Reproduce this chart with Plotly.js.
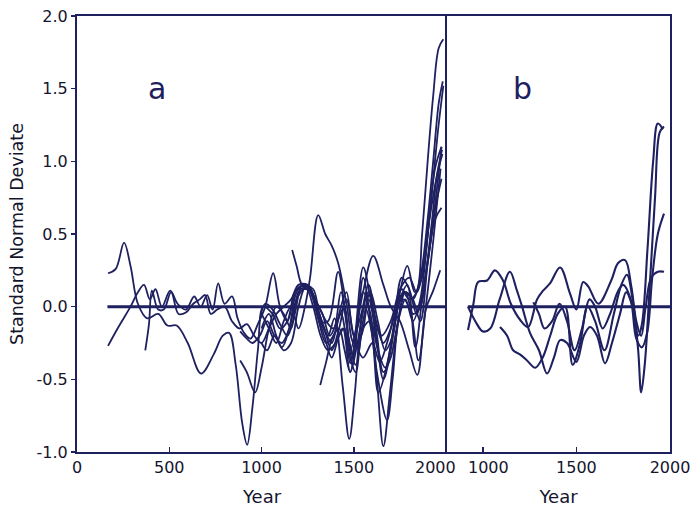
<!DOCTYPE html>
<html>
<head>
<meta charset="utf-8">
<script src="https://cdn.plot.ly/plotly-3.0.1.min.js"></script>
<style>html,body{margin:0;padding:0;background:#fff}#chart{width:693px;height:511px}</style>
</head>
<body>
<div id="chart"></div>
<script>
// ---------- Panel a series (year, standard normal deviate) ----------
const zeroAYear = [165, 2005];
const zeroAValue = [0, 0];

const a1Year = [168,210,255,290,330,380,440,490,540,600,672,740,790,824,860,895,922,950,980,1010,1060,1100,1140,1180,1220,1260,1300,1340,1380,1420,1460,1500,1550,1600,1640,1680,1720,1760,1800,1840,1870,1900,1930,1960,1985];
const a1Value = [0.23,0.26,0.44,0.28,0.02,-0.08,-0.05,-0.13,-0.13,-0.25,-0.46,-0.33,-0.2,-0.18,-0.4,-0.8,-0.95,-0.7,-0.3,0.0,-0.05,-0.15,-0.1,0.1,0.14,0.13,0.0,-0.15,-0.3,-0.15,0.05,-0.2,-0.35,-0.25,-0.38,-0.25,-0.05,0.12,0.05,0.1,0.5,1.0,1.45,1.78,1.84];

const a2Year = [168,220,290,330,363,395,425,460,505,545,590,635,670,705,735,765,800,840,870,905,940,980,1020,1063,1100,1140,1190,1240,1280,1320,1360,1415,1450,1490,1551,1600,1650,1700,1750,1800,1840,1880,1920,1955,1985];
const a2Value = [-0.27,-0.15,0.0,0.1,0.15,0.05,0.12,0.0,0.11,0.02,-0.02,0.07,0.0,0.08,-0.02,0.16,0.02,0.07,-0.08,-0.18,-0.22,-0.12,0.0,0.23,0.0,-0.1,0.12,0.15,0.05,-0.1,-0.1,0.24,0.0,-0.35,0.27,0.0,-0.2,-0.1,0.12,0.2,0.1,0.3,0.75,1.2,1.52];

const a3Year = [370,390,406,440,470,510,550,590,630,665,694,725,760,800,840,880,920,960,1000,1040,1080,1120,1160,1200,1250,1290,1330,1370,1410,1450,1480,1520,1550,1605,1660,1700,1750,1800,1844,1890,1930,1968];
const a3Value = [-0.30,-0.12,0.11,-0.02,-0.02,0.1,-0.05,-0.04,0.02,0.05,0.08,-0.05,-0.02,0.0,-0.1,-0.15,-0.12,-0.2,-0.25,-0.15,-0.05,0.0,0.05,0.15,0.15,0.05,-0.05,-0.2,-0.1,0.0,-0.3,-0.1,0.1,0.35,0.15,0.0,-0.1,-0.3,-0.47,-0.02,0.11,0.25];

const a4Year = [884,920,965,1000,1040,1080,1120,1160,1200,1240,1280,1320,1360,1400,1440,1480,1520,1560,1600,1633,1680,1720,1760,1800,1840,1880,1920,1950,1978];
const a4Value = [-0.37,-0.45,-0.59,-0.42,-0.15,0.0,-0.05,-0.15,0.1,0.13,0.0,-0.2,-0.3,-0.25,-0.15,-0.45,-0.25,0.0,-0.2,-0.59,-0.4,-0.1,0.2,0.12,-0.05,0.15,0.55,0.9,1.08];

const a5Year = [884,920,950,990,1030,1070,1110,1150,1190,1230,1270,1310,1350,1390,1430,1470,1510,1550,1590,1630,1670,1710,1750,1790,1833,1870,1910,1945,1975];
const a5Value = [-0.17,-0.22,-0.25,-0.2,-0.1,-0.2,-0.25,-0.15,0.05,0.12,0.1,-0.1,-0.25,-0.2,-0.05,-0.3,-0.45,-0.15,-0.1,-0.3,-0.42,-0.2,0.05,0.15,-0.28,0.05,0.4,0.7,0.88];

const a6Year = [990,1020,1060,1100,1140,1180,1220,1260,1300,1340,1380,1420,1450,1480,1510,1550,1590,1625,1660,1695,1730,1770,1810,1850,1890,1930,1970];
const a6Value = [-0.1,0.02,-0.02,-0.12,-0.2,-0.05,0.15,0.12,-0.05,-0.2,-0.35,-0.2,-0.15,-0.39,-0.2,0.1,-0.05,-0.5,-0.96,-0.6,-0.2,0.05,-0.05,-0.37,0.0,0.45,0.95];

const a7Year = [1000,1040,1080,1120,1160,1200,1235,1263,1307,1345,1380,1415,1463,1500,1540,1580,1620,1660,1700,1740,1780,1820,1860,1900,1930,1960,1982];
const a7Value = [-0.05,-0.15,-0.25,-0.1,0.0,-0.15,0.0,0.2,0.63,0.5,0.42,0.3,0.0,-0.25,-0.2,0.05,-0.2,-0.5,-0.3,0.0,0.1,0.05,0.2,0.6,1.0,1.4,1.55];

const a8Year = [1318,1350,1382,1420,1450,1480,1510,1551,1590,1625,1680,1710,1740,1780,1820,1860,1900,1940,1975];
const a8Value = [-0.54,-0.38,-0.22,-0.15,-0.3,-0.45,-0.25,0.2,-0.1,-0.45,-0.78,-0.5,-0.1,0.1,0.05,-0.1,0.3,0.7,1.1];

const a9Year = [1166,1190,1220,1260,1300,1340,1380,1420,1460,1500,1540,1580,1620,1660,1700,1740,1780,1820,1860,1900,1940,1975];
const a9Value = [0.39,0.28,0.15,0.13,0.0,-0.15,-0.25,-0.05,0.1,-0.2,-0.05,0.15,-0.1,-0.25,-0.15,0.05,0.1,-0.05,0.0,0.3,0.6,0.68];

const a10Year = [1000,1030,1070,1110,1150,1190,1230,1270,1310,1350,1390,1430,1470,1510,1550,1590,1630,1670,1710,1750,1790,1830,1870,1910,1950,1980];
const a10Value = [-0.25,-0.3,-0.2,-0.28,-0.15,0.1,0.15,0.1,0.0,-0.1,-0.15,0.1,-0.2,-0.4,-0.1,0.1,-0.1,-0.3,-0.2,0.1,0.28,0.1,0.2,0.6,0.9,1.05];

const a11Year = [1000,1040,1080,1120,1160,1200,1240,1280,1320,1360,1395,1440,1475,1505,1540,1580,1620,1660,1700,1740,1780,1820,1860,1900,1940,1975];
const a11Value = [-0.15,-0.05,-0.2,-0.3,-0.25,0.0,0.14,0.12,-0.1,-0.2,-0.08,-0.55,-0.91,-0.6,-0.1,0.1,-0.15,-0.45,-0.35,-0.1,0.05,-0.1,0.05,0.5,0.95,1.1];

// ---------- Panel b series ----------
const zeroBYear = [920, 2000];
const zeroBValue = [0, 0];

const b1Year = [921,950,975,1023,1065,1108,1150,1199,1242,1290,1322,1359,1413,1466,1500,1536,1563,1617,1686,1723,1760,1793,1820,1846,1870,1900,1935,1968];
const b1Value = [-0.16,0.02,0.17,0.18,0.25,0.18,0.02,-0.09,-0.14,0.05,0.11,0.16,0.27,0.09,-0.02,0.17,0.14,0.02,0.18,0.30,0.32,0.14,-0.1,-0.2,0.0,0.2,0.24,0.24];

const b2Year = [921,960,1000,1040,1090,1145,1180,1210,1252,1300,1343,1380,1413,1450,1500,1540,1573,1610,1653,1690,1733,1766,1800,1830,1850,1880,1910,1935,1962];
const b2Value = [0.0,-0.1,-0.17,-0.15,0.05,0.24,0.12,0.0,-0.18,-0.3,-0.46,-0.35,-0.23,-0.25,-0.38,-0.2,-0.14,-0.2,-0.39,-0.25,-0.05,0.1,0.0,-0.2,-0.12,0.4,1.0,1.26,1.22];

const b3Year = [1092,1130,1162,1200,1236,1280,1320,1360,1400,1440,1480,1520,1560,1600,1650,1700,1740,1770,1800,1830,1846,1865,1890,1920,1945,1968];
const b3Value = [-0.14,-0.2,-0.3,-0.33,-0.37,-0.42,-0.35,-0.2,-0.05,0.0,-0.4,-0.25,0.0,-0.1,-0.3,-0.05,0.15,0.22,0.05,-0.3,-0.59,-0.4,0.1,0.75,1.2,1.24];

const b4Year = [1270,1300,1330,1370,1410,1450,1490,1530,1570,1600,1640,1680,1720,1750,1790,1820,1850,1878,1905,1935,1968];
const b4Value = [0.03,-0.05,-0.15,-0.1,0.02,-0.1,-0.3,-0.15,0.05,0.0,-0.15,-0.05,0.1,0.15,0.05,-0.22,-0.28,-0.18,0.2,0.5,0.64];

// ---------- Ticks / labels ----------
const yTicks = [-1.0, -0.5, 0.0, 0.5, 1.0, 1.5, 2.0];
const yTickText = ['-1.0', '-0.5', '0.0', '0.5', '1.0', '1.5', '2.0'];
const xTicksA = [0, 500, 1000, 1500, 2000];
const xTickTextA = ['0', '500', '1000', '1500', ''];
const xTicksB = [1000, 1500, 2000];
const xTickTextB = ['', '1500', '2000'];
const edgeTickA = 2000;   // label drawn as annotation, nudged left to avoid the neighbour
const edgeTickB = 1000;   // label drawn as annotation, nudged right
const panelLabels = ['a', 'b'];

const navy = '#1e2060';
const textCol = '#15152e';
const font = 'DejaVu Sans, Arial, sans-serif';

function line(x, y, xa, ya, width) {
  return {x: x, y: y, xaxis: xa, yaxis: ya, type: 'scatter', mode: 'lines',
    line: {color: navy, width: width, shape: 'spline', smoothing: 1},
    hoverinfo: 'skip', showlegend: false};
}

const wa = 1.8, wb = 2.1;
const traces = [
  line(zeroAYear, zeroAValue, 'x', 'y', 3),
  line(a1Year, a1Value, 'x', 'y', wa),
  line(a2Year, a2Value, 'x', 'y', wa),
  line(a3Year, a3Value, 'x', 'y', wa),
  line(a4Year, a4Value, 'x', 'y', wa),
  line(a5Year, a5Value, 'x', 'y', wa),
  line(a6Year, a6Value, 'x', 'y', wa),
  line(a7Year, a7Value, 'x', 'y', wa),
  line(a8Year, a8Value, 'x', 'y', wa),
  line(a9Year, a9Value, 'x', 'y', wa),
  line(a10Year, a10Value, 'x', 'y', wa),
  line(a11Year, a11Value, 'x', 'y', wa),
  line(zeroBYear, zeroBValue, 'x2', 'y2', 3),
  line(b1Year, b1Value, 'x2', 'y2', wb),
  line(b2Year, b2Value, 'x2', 'y2', wb),
  line(b3Year, b3Value, 'x2', 'y2', wb),
  line(b4Year, b4Value, 'x2', 'y2', wb)
];

const tickFont = {family: font, size: 16, color: textCol};
const axisCommon = {
  showline: true, linecolor: navy, linewidth: 2, mirror: true,
  showgrid: false, zeroline: false, tickfont: tickFont,
  ticks: 'inside', ticklen: 5, tickwidth: 1.5, tickcolor: navy
};
const titleFont = {family: font, size: 18, color: textCol};

const layout = {
  width: 693, height: 511,
  margin: {l: 77, r: 23, t: 16, b: 59},
  paper_bgcolor: '#ffffff', plot_bgcolor: '#ffffff',
  xaxis: Object.assign({}, axisCommon, {
    domain: [0, 0.624], range: [0, 2005], tickvals: xTicksA, ticktext: xTickTextA,
    anchor: 'y', title: {text: 'Year', font: titleFont, standoff: 14}
  }),
  xaxis2: Object.assign({}, axisCommon, {
    domain: [0.624, 1], range: [809, 2000], tickvals: xTicksB, ticktext: xTickTextB,
    anchor: 'y2', title: {text: 'Year', font: titleFont, standoff: 14}
  }),
  yaxis: Object.assign({}, axisCommon, {
    range: [-1, 2], tickvals: yTicks, ticktext: yTickText, ticks: 'outside', ticklen: 4,
    mirror: false, anchor: 'x',
    title: {text: 'Standard Normal Deviate', font: {family: font, size: 17.5, color: textCol}, standoff: 8}
  }),
  yaxis2: {
    matches: 'y', range: [-1, 2], anchor: 'x2', showticklabels: false, ticks: '',
    showline: true, mirror: true, linecolor: navy, linewidth: 2,
    showgrid: false, zeroline: false
  },
  annotations: [
    {text: panelLabels[0], xref: 'x', yref: 'y', x: 434, y: 1.5, showarrow: false,
     font: {family: font, size: 30, color: navy}, xanchor: 'center', yanchor: 'middle'},
    {text: panelLabels[1], xref: 'x2', yref: 'y', x: 1210, y: 1.5, showarrow: false,
     font: {family: font, size: 30, color: navy}, xanchor: 'center', yanchor: 'middle'},
    {text: String(edgeTickA), xref: 'x', yref: 'paper', x: edgeTickA, y: 0, showarrow: false,
     xanchor: 'center', yanchor: 'top', xshift: -11, yshift: -4, font: tickFont},
    {text: String(edgeTickB), xref: 'x2', yref: 'paper', x: edgeTickB, y: 0, showarrow: false,
     xanchor: 'center', yanchor: 'top', xshift: 6, yshift: -4, font: tickFont}
  ]
};

Plotly.newPlot('chart', traces, layout, {staticPlot: true, displayModeBar: false});
</script>
</body>
</html>
